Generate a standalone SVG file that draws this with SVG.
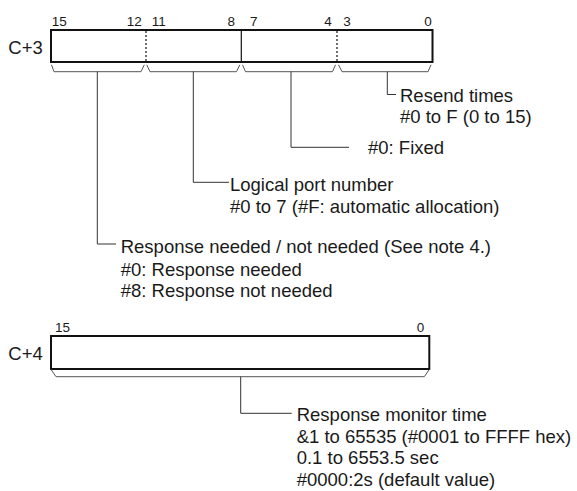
<svg xmlns="http://www.w3.org/2000/svg" width="577" height="491" viewBox="0 0 577 491">
<style>
text{font-family:"Liberation Sans",Arial,sans-serif;fill:#1a1a1a}
.t{font-size:18.5px}
.b{font-size:13.5px}
.box{fill:#fff;stroke:#111;stroke-width:2}
.div{stroke:#111;stroke-width:1.2}
.dot{stroke:#111;stroke-width:1.2;stroke-dasharray:2 2}
.br{fill:none;stroke:#555;stroke-width:1}
.c{fill:none;stroke:#333;stroke-width:1}
</style>
<g id="c3">
<rect class="box" x="51" y="30" width="381.5" height="32"/>
<line class="dot" x1="146" y1="31" x2="146" y2="61"/>
<line class="div" x1="241.3" y1="31" x2="241.3" y2="61"/>
<line class="dot" x1="337" y1="31" x2="337" y2="61"/>
<text class="t" x="8.3" y="54.3">C+3</text>
<text class="b" x="51.7" y="26">15</text>
<text class="b" x="141.7" y="26" text-anchor="end">12</text>
<text class="b" x="151.7" y="26">11</text>
<text class="b" x="235" y="26" text-anchor="end">8</text>
<text class="b" x="250" y="26">7</text>
<text class="b" x="331.7" y="26" text-anchor="end">4</text>
<text class="b" x="343.3" y="26">3</text>
<text class="b" x="431.7" y="26" text-anchor="end">0</text>
<path class="br" d="M51.5 64.8 L54 71.7 H141 L144.3 64.8"/>
<path class="br" d="M146.8 64.8 L150 71.7 H236.5 L239.8 64.8"/>
<path class="br" d="M242.5 64.8 L245.5 71.7 H332.5 L335.5 64.8"/>
<path class="br" d="M338.5 64.8 L342 71.7 H428 L431 64.8"/>
</g>
<g id="c4">
<rect class="box" x="51" y="336" width="378.3" height="33"/>
<text class="t" x="8.3" y="360">C+4</text>
<text class="b" x="55" y="332.3">15</text>
<text class="b" x="424.3" y="332.3" text-anchor="end">0</text>
<path class="br" d="M51 369.5 L56 376.7 H424.3 L429.3 369.5"/>
</g>
<g id="connectors">
<path class="c" d="M387.3 71.7 V94.5 H396"/>
<path class="c" d="M291 71.7 V147.3 H349"/>
<path class="c" d="M193.3 71.7 V182.3 H229"/>
<path class="c" d="M97.3 71.7 V244 H116"/>
<path class="c" d="M240.7 376.7 V413.3 H291.7"/>
</g>
<g id="resend">
<text class="t" x="400" y="101.5">Resend times</text>
<text class="t" x="400" y="123.3">#0 to F (0 to 15)</text>
</g>
<g id="fixed">
<text class="t" x="368" y="154">#0: Fixed</text>
</g>
<g id="port">
<text class="t" x="230" y="190.5">Logical port number</text>
<text class="t" x="230" y="212.5">#0 to 7 (#F: automatic allocation)</text>
</g>
<g id="response">
<text class="t" x="120.7" y="253">Response needed / not needed (See note 4.)</text>
<text class="t" x="120.7" y="275.5">#0: Response needed</text>
<text class="t" x="120.7" y="297">#8: Response not needed</text>
</g>
<g id="monitor">
<text class="t" x="296.7" y="420.7">Response monitor time</text>
<text class="t" x="296.7" y="442.5">&amp;1 to 65535 (#0001 to FFFF hex)</text>
<text class="t" x="296.7" y="464.3">0.1 to 6553.5 sec</text>
<text class="t" x="296.7" y="485.5">#0000:2s (default value)</text>
</g>
</svg>
